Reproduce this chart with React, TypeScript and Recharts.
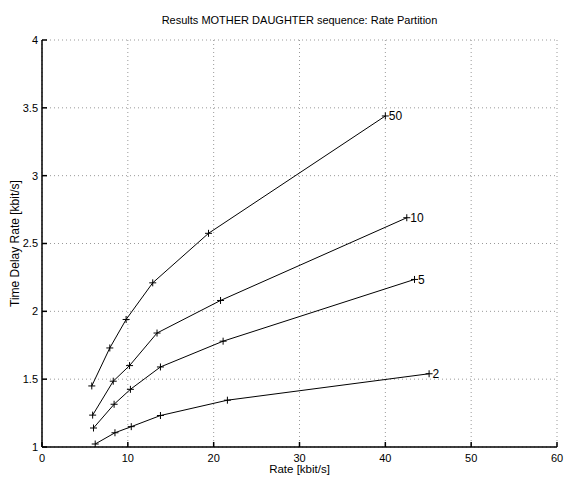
import React from 'react'
import { ScatterChart, Scatter, XAxis, YAxis, CartesianGrid, Label } from 'recharts'

// rate [kbit/s] vs time delay rate, one curve per partition setting
const rate50 = [5.8, 7.9, 9.8, 12.9, 19.4, 40.0]
const delay50 = [1.45, 1.73, 1.94, 2.21, 2.575, 3.44]

const rate10 = [5.9, 8.3, 10.2, 13.4, 20.8, 42.5]
const delay10 = [1.235, 1.485, 1.6, 1.84, 2.08, 2.69]

const rate5 = [6.0, 8.4, 10.3, 13.8, 21.1, 43.4]
const delay5 = [1.14, 1.315, 1.425, 1.59, 1.78, 2.235]

const rate2 = [6.2, 8.5, 10.4, 13.8, 21.6, 45.1]
const delay2 = [1.022, 1.105, 1.15, 1.232, 1.345, 1.54]

const seriesTags = ['50', '10', '5', '2']

const xTicks = [0, 10, 20, 30, 40, 50, 60]
const yTicks = [1, 1.5, 2, 2.5, 3, 3.5, 4]

const FONT = '"Liberation Sans", Arial, Helvetica, sans-serif'

type Pt = { x: number; y: number; tag?: string }

function toPoints(xs: number[], ys: number[], tag: string): Pt[] {
  return xs.map((x, i) => ({ x, y: ys[i], tag: i === xs.length - 1 ? tag : undefined }))
}

const curves = [
  toPoints(rate50, delay50, seriesTags[0]),
  toPoints(rate10, delay10, seriesTags[1]),
  toPoints(rate5, delay5, seriesTags[2]),
  toPoints(rate2, delay2, seriesTags[3]),
]

// '+' marker, with the curve's tag written after the last point
function PlusMarker(props: any) {
  const { cx, cy, payload } = props
  const s = 3.5
  return (
    <g>
      <path d={`M${cx - s},${cy}H${cx + s}M${cx},${cy - s}V${cy + s}`} stroke="#000" strokeWidth={1} fill="none" />
      {payload && payload.tag ? (
        <text x={cx + 3.5} y={cy + 4.5} fontSize={12} fontFamily={FONT} fill="#000">
          {payload.tag}
        </text>
      ) : null}
    </g>
  )
}

const tickStyle = { fontSize: 11, fontFamily: FONT, fill: '#000' }
const blank = () => ''

export default function App() {
  return (
    <div style={{ position: 'absolute', left: 0, top: 0, width: 571, height: 487, background: '#fff' }}>
      <div
        style={{
          position: 'absolute',
          left: 42,
          width: 515,
          top: 14,
          textAlign: 'center',
          fontFamily: FONT,
          fontSize: 11,
          lineHeight: '12px',
          color: '#000',
        }}
      >
        Results MOTHER DAUGHTER sequence: Rate Partition
      </div>
      <ScatterChart width={571} height={487} margin={{ top: 40, right: 14, bottom: 0, left: 0 }}>
        <CartesianGrid stroke="#999" strokeDasharray="1 3" />
        <XAxis
          type="number"
          dataKey="x"
          domain={[0, 60]}
          ticks={xTicks}
          height={40}
          tickSize={-5}
          tickMargin={12}
          tick={tickStyle}
          stroke="#000"
          strokeWidth={1.5}
          allowDataOverflow
        >
          <Label value="Rate [kbit/s]" position="insideBottom" offset={14} style={{ fontSize: 11.5, fontFamily: FONT, fill: '#000' }} />
        </XAxis>
        <XAxis
          xAxisId="top"
          orientation="top"
          type="number"
          domain={[0, 60]}
          ticks={xTicks}
          height={0}
          tickSize={-5}
          tickFormatter={blank}
          stroke="#000"
          strokeWidth={1.5}
        />
        <YAxis
          type="number"
          dataKey="y"
          domain={[1, 4]}
          ticks={yTicks}
          width={42}
          tickSize={-5}
          tickMargin={9}
          tick={tickStyle}
          stroke="#000"
          strokeWidth={1.5}
          allowDataOverflow
        >
          <Label
            value="Time Delay Rate [kbit/s]"
            angle={-90}
            position="insideLeft"
            offset={15}
            style={{ fontSize: 12, fontFamily: FONT, fill: '#000', textAnchor: 'middle' }}
          />
        </YAxis>
        <YAxis
          yAxisId="right"
          orientation="right"
          type="number"
          domain={[1, 4]}
          ticks={yTicks}
          width={0}
          tickSize={-5}
          tickFormatter={blank}
          stroke="#000"
          strokeWidth={1.5}
        />
        {curves.map((pts, i) => (
          <Scatter
            key={seriesTags[i]}
            data={pts}
            line={{ stroke: '#000', strokeWidth: 1 }}
            shape={<PlusMarker />}
            isAnimationActive={false}
          />
        ))}
      </ScatterChart>
    </div>
  )
}
